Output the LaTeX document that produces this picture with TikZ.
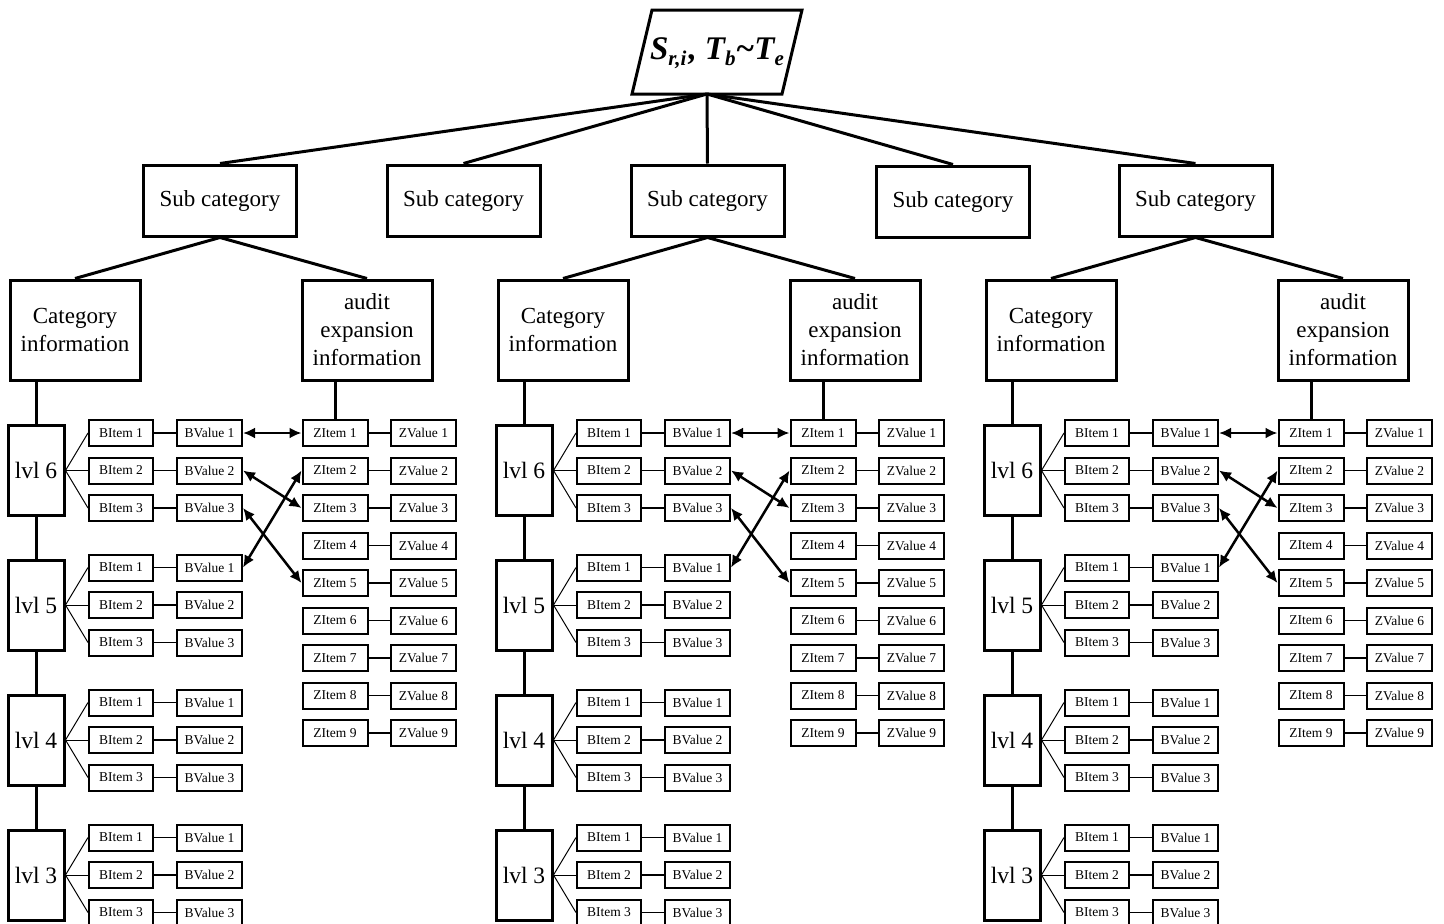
\documentclass[tikz,border=0pt]{standalone}
\usepackage{fontspec}
\setmainfont{Liberation Serif}
\usetikzlibrary{arrows.meta}
\newcommand{\lowsub}[1]{\raisebox{-6pt}{\fontsize{21}{21}\selectfont #1}}
\begin{document}
\begin{tikzpicture}[x=1pt,y=-1pt,
  bigbox/.style={draw, line width=3pt, inner sep=0pt, align=center,
    font=\fontsize{23}{28}\selectfont},
  subbox/.style={bigbox, minimum width=153pt, minimum height=71pt},
  infobox/.style={bigbox, minimum width=130pt, minimum height=100pt},
  lvlbox/.style={bigbox, minimum width=56pt, minimum height=90pt,
    font=\fontsize{23.5}{28}\selectfont},
  itembox/.style={draw, line width=2pt, inner sep=0pt, minimum width=65pt,
    minimum height=26pt, font=\fontsize{13.5}{16}\selectfont},
  heavy/.style={line width=3pt},
  fan/.style={line width=1pt},
  link/.style={line width=1.3pt},
  cross/.style={line width=2.5pt, {Latex[length=12pt,width=11pt]}-{Latex[length=12pt,width=11pt]}}]
\useasboundingbox (0,0) rectangle (1444,924);

% root parallelogram
\draw[line width=3pt, line join=miter] (652,10) -- (802,10) -- (782,94) -- (632,94) -- cycle;
\node (root) at (717,53) {\fontsize{33}{36}\selectfont\bfseries\itshape
  S\lowsub{r,i}\kern2pt, T\lowsub{b}{\char"007E}T\lowsub{e}};
\coordinate (rb) at (707,94);

% sub categories
\node[subbox] (s1) at (220,200.5) {Sub category};
\node[subbox] (s2) at (463.5,200.5) {Sub category};
\node[subbox] (s3) at (707.5,200.5) {Sub category};
\node[subbox] (s4) at (953,201.5) {Sub category};
\node[subbox] (s5) at (1195.5,200.5) {Sub category};
\foreach \s in {s1,s2,s3,s4,s5} \draw[heavy] (rb) -- (\s.north);

% three identical branches
\foreach \g/\o/\s in {a/0/s1, b/488/s3, c/976/s5}{
  \node[infobox] (\g cat) at ({75+\o},330) {Category\\information};
  \node[infobox] (\g aud) at ({367+\o},330) {audit\\expansion\\information};
  \draw[heavy] (\s.south) -- (\g cat.north);
  \draw[heavy] (\s.south) -- (\g aud.north);

  % levels with their items and values
  \foreach \L/\ly in {6/470.5, 5/605, 4/740, 3/875}{
    \node[lvlbox] (\g L\L) at ({36+\o},\ly) {lvl \L};
    \foreach \r in {1,2,3}{
      \node[itembox, minimum width=64pt] (\g b\L\r) at ({121+\o},{\ly+(\r-2)*37.5}) {BItem \r};
      \node[itembox] (\g v\L\r) at ({209.5+\o},{\ly+(\r-2)*37.5}) {BValue \r};
      \draw[fan] (\g L\L.east) -- (\g b\L\r.west);
      \draw[link] (\g b\L\r.east) -- (\g v\L\r.west);
    }
  }
  \draw[heavy] (\g L6.north) -- (\g L6.north |- \g cat.south);
  \draw[heavy] (\g L6.south) -- (\g L5.north);
  \draw[heavy] (\g L5.south) -- (\g L4.north);
  \draw[heavy] (\g L4.south) -- (\g L3.north);

  % audit items and values
  \foreach \k in {1,...,9}{
    \node[itembox] (\g z\k) at ({335+\o},{433+(\k-1)*37.5}) {ZItem \k};
    \node[itembox] (\g w\k) at ({423.5+\o},{433+(\k-1)*37.5}) {ZValue \k};
    \draw[link] (\g z\k.east) -- (\g w\k.west);
  }
  \draw[heavy] (\g z1.north) -- (\g z1.north |- \g aud.south);

  % cross references
  \draw[cross] (\g v61.east) -- (\g z1.west);
  \draw[cross] (\g v62.east) -- (\g z3.west);
  \draw[cross] (\g v63.east) -- (\g z5.west);
  \draw[cross] (\g v51.east) -- (\g z2.west);
}
\end{tikzpicture}
\end{document}
